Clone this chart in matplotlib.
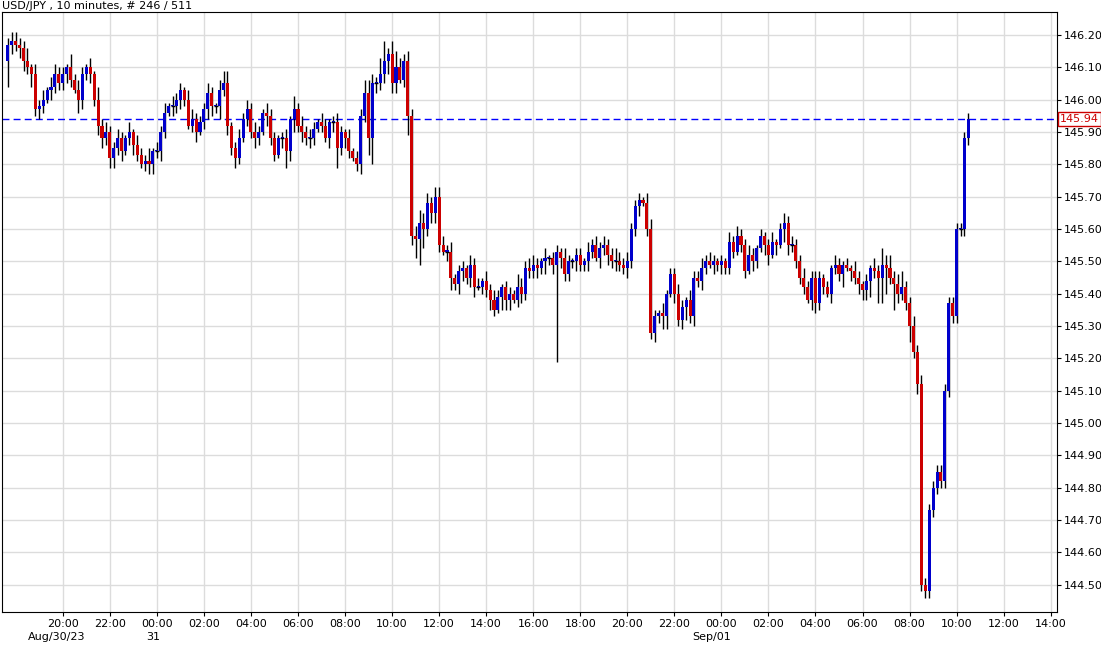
import matplotlib
matplotlib.use("Agg")
import matplotlib.pyplot as plt
import numpy as np

first_open = 146.12
# closes, 10-minute candles from Aug 30 17:40 (one row per hour)
close = [
 146.17,146.18,
 146.17,146.16,146.12,146.10,146.08,145.97,
 145.98,146.00,146.03,146.04,146.08,146.05,
 146.08,146.10,146.06,146.03,146.00,146.08,
 146.10,146.08,146.00,145.92,145.88,145.90,
 145.82,145.85,145.88,145.84,145.88,145.90,
 145.86,145.83,145.80,145.81,145.80,145.84,
 145.84,145.90,145.96,145.98,145.98,146.00,
 146.03,146.00,145.92,145.94,145.90,145.93,
 145.97,146.02,145.98,145.98,146.03,146.05,
 145.92,145.85,145.82,145.88,145.94,145.97,
 145.90,145.88,145.90,145.96,145.95,145.88,
 145.83,145.88,145.88,145.84,145.94,145.97,
 145.92,145.90,145.88,145.88,145.91,145.93,
 145.92,145.88,145.93,145.93,145.85,145.90,
 145.88,145.84,145.82,145.80,145.95,146.02,
 145.88,146.05,146.05,146.08,146.12,146.14,
 146.05,146.10,146.06,146.12,145.95,145.58,
 145.57,145.62,145.60,145.68,145.65,145.70,
 145.55,145.53,145.53,145.45,145.43,145.47,
 145.48,145.45,145.49,145.42,145.42,145.44,
 145.41,145.38,145.35,145.39,145.42,145.38,
 145.40,145.38,145.42,145.40,145.48,145.47,
 145.49,145.48,145.50,145.51,145.51,145.49,
 145.53,145.51,145.46,145.50,145.50,145.52,
 145.49,145.50,145.53,145.55,145.51,145.54,
 145.55,145.52,145.50,145.50,145.49,145.48,
 145.50,145.60,145.67,145.69,145.68,145.60,
 145.28,145.33,145.34,145.33,145.40,145.46,
 145.40,145.32,145.36,145.38,145.33,145.45,
 145.44,145.48,145.50,145.49,145.50,145.49,
 145.50,145.48,145.56,145.53,145.58,145.55,
 145.47,145.52,145.50,145.54,145.58,145.55,
 145.52,145.56,145.55,145.60,145.62,145.55,
 145.55,145.50,145.45,145.42,145.38,145.45,
 145.37,145.45,145.42,145.40,145.48,145.49,
 145.46,145.49,145.48,145.47,145.45,145.43,
 145.41,145.44,145.48,145.47,145.45,145.49,
 145.48,145.45,145.43,145.40,145.42,145.37,
 145.30,145.22,145.12,144.50,144.48,144.73,
 144.80,144.85,144.82,145.10,145.37,145.33,
 145.60,145.60,145.88,145.94,
]
# upper / lower wick lengths in pips (A = 8, S = 30)
wick_hi_s = ("23" "322413" "231332" "214232" "131423" "223213" "132241" "323132" "213322"
 "232134" "412323" "232132" "212314" "232321" "321232" "131224" "432562" "453232"
 "343323" "332312" "213231" "323212" "214323" "321312" "213212" "213232" "322432"
 "322213" "321312" "232132" "232321" "213232" "232121" "231232" "322322" "221213"
 "212132" "121325" "342352" "2323")
wick_lo_s = ("83" "233242" "321322" "232143" "232332" "332312" "321233" "232132" "321231"
 "233242" "323212" "232132" "213534" "232321" "213362" "321232" "5A3234" "331263"
 "6A6233" "213423" "323312" "232143" "312322" "232423" "S32223" "223213" "232322"
 "322312" "232441" "323423" "232132" "322212" "213213" "313143" "222213" "322132"
 "241323" "3352A8" "A2A322" "5232")

def parse(s):
    m = {"A": 8, "S": 30}
    return [m[c] if c in m else int(c) for c in s]

n = len(close)
wick_hi = (parse(wick_hi_s) + [2] * n)[:n]
wick_lo = (parse(wick_lo_s) + [2] * n)[:n]
opens = [first_open] + close[:-1]
highs = [max(o, c) + h / 100 for o, c, h in zip(opens, close, wick_hi)]
lows = [min(o, c) - l / 100 for o, c, l in zip(opens, close, wick_lo)]

xtick_labels = ["20:00","22:00","00:00","02:00","04:00","06:00","08:00","10:00","12:00","14:00",
                "16:00","18:00","20:00","22:00","00:00","02:00","04:00","06:00","08:00","10:00","12:00","14:00"]
last_price = 145.94

fig = plt.figure(figsize=(11.01, 6.46), dpi=100)
ax = fig.add_axes([2/1101, 34/646, 1055/1101, 600/646])
ax.set_xlim(-1.5, 267.6)
ax.set_ylim(144.416, 146.271)
yt = np.round(np.arange(144.5, 146.21, 0.1), 2)
ax.set_yticks(yt)
ax.set_yticklabels([f"{v:.2f}" for v in yt], fontsize=8)
ax.yaxis.tick_right()
xt = [14 + 12 * i for i in range(len(xtick_labels))]
ax.set_xticks(xt)
ax.set_xticklabels(xtick_labels, fontsize=8)
ax.tick_params(length=3, pad=2)
ax.grid(True, color="#dcdcdc", lw=1)
ax.set_axisbelow(True)
for s in ax.spines.values():
    s.set_color("black")

x = np.arange(n)
ax.vlines(x, lows, highs, color="black", lw=1, zorder=2)
cols = ["#0000cc" if c >= o else "#cc0000" for o, c in zip(opens, close)]
bot = [min(o, c) for o, c in zip(opens, close)]
hgt = [max(abs(c - o), 0.004) for o, c in zip(opens, close)]
ax.bar(x, hgt, bottom=bot, width=0.78, color=cols, lw=0, zorder=3)
for i, (o, c) in enumerate(zip(opens, close)):
    if abs(c - o) < 0.004:
        ax.hlines(c, i - 0.5, i + 0.5, color="black", lw=1, zorder=4)

ax.axhline(last_price, color="#0000ff", ls=(0, (5, 3)), lw=1, zorder=1)
ax.text(1.003, last_price, f"{last_price:.2f}", transform=ax.get_yaxis_transform(),
        fontsize=8, color="#cc0000", va="center", ha="left",
        bbox=dict(boxstyle="square,pad=0.15", fc="white", ec="#cc0000", lw=1))
fig.text(2/1101, 1 - 6/646, "USD/JPY , 10 minutes, # 246 / 511", fontsize=8, va="center")
fig.text(57/1101, 1 - 637/646, "Aug/30/23", fontsize=8, ha="center", va="center")
fig.text(153/1101, 1 - 637/646, "31", fontsize=8, ha="center", va="center")
fig.text(712/1101, 1 - 637/646, "Sep/01", fontsize=8, ha="center", va="center")
fig.savefig("out.png", dpi=100)
